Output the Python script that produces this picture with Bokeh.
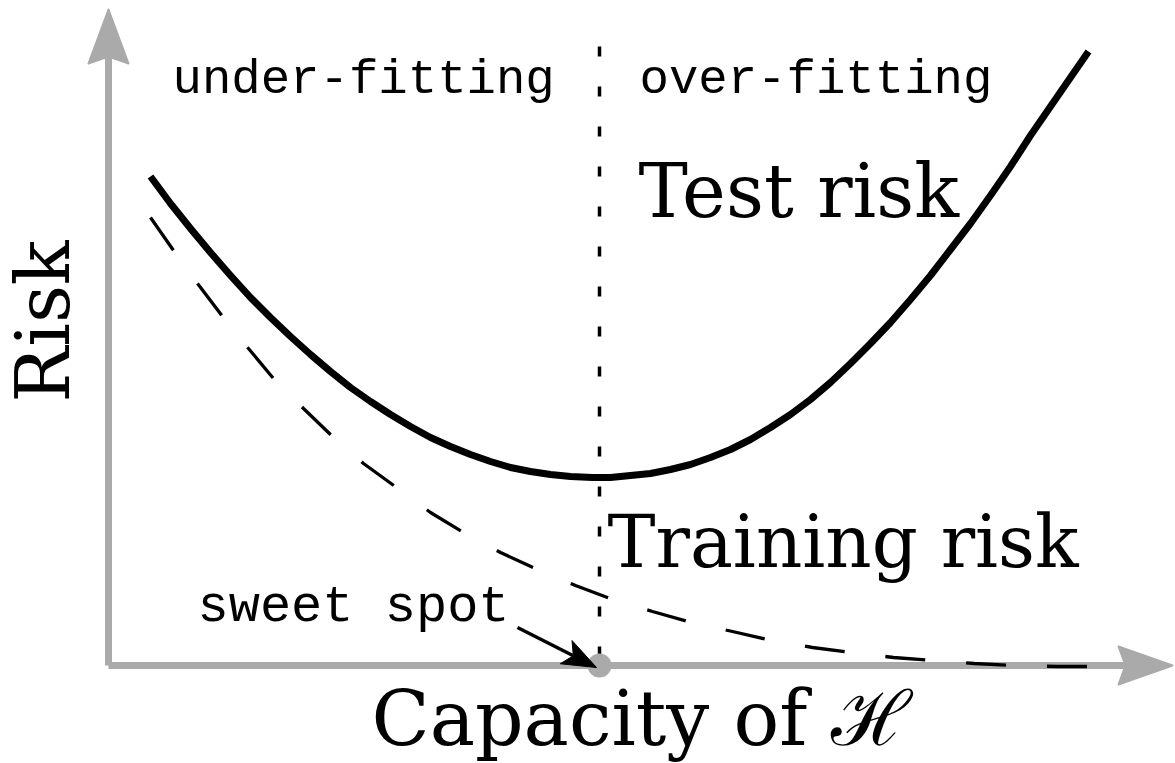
import numpy as np
from bokeh.plotting import figure
from bokeh.models import Range1d
from bokeh.core.properties import value
from bokeh.embed import file_html
from bokeh.resources import INLINE

# ---------------- data ----------------
capacity_test = [0.42, 0.62, 0.82, 1.02, 1.22, 1.42, 1.62, 1.82, 2.02, 2.22, 2.42, 2.62,
                 2.82, 3.02, 3.22, 3.42, 3.62, 3.82, 4.02, 4.22, 4.42, 4.62, 4.84, 5.02,
                 5.22, 5.42, 5.62, 5.82, 6.02, 6.22, 6.42, 6.62, 6.82, 7.02, 7.22, 7.42,
                 7.62, 7.82, 8.02, 8.22, 8.42, 8.62, 8.82, 9.02, 9.22, 9.42, 9.62, 9.80]
test_risk = [4.89, 4.62, 4.37, 4.13, 3.90, 3.68, 3.48, 3.29, 3.11, 2.94, 2.78, 2.64,
             2.51, 2.39, 2.28, 2.19, 2.11, 2.04, 1.98, 1.94, 1.91, 1.89, 1.88, 1.88,
             1.90, 1.92, 1.96, 2.01, 2.08, 2.16, 2.26, 2.38, 2.51, 2.66, 2.83, 3.02,
             3.22, 3.43, 3.66, 3.90, 4.16, 4.42, 4.70, 4.99, 5.30, 5.59, 5.88, 6.14]

capacity_train = [0.42, 0.65, 0.89, 1.14, 1.40, 1.65, 1.95, 2.24, 2.55, 2.88, 3.22, 3.55,
                  3.92, 4.29, 4.67, 5.04, 5.44, 5.83, 6.24, 6.63, 7.04, 7.44, 7.85, 8.24,
                  8.66, 9.06, 9.48, 9.81]
train_risk = [4.48, 4.15, 3.82, 3.49, 3.17, 2.87, 2.57, 2.29, 2.02, 1.78, 1.53, 1.33,
              1.13, 0.96, 0.80, 0.66, 0.54, 0.43, 0.34, 0.25, 0.18, 0.13, 0.08, 0.05,
              0.02, 0.00, -0.01, -0.01]

sweet_spot_capacity = [4.91]
sweet_spot_risk = [0.0]

x_axis_end = 10.64
y_axis_end = 6.56
divider_top = 6.19
divider_bottom = 0.05

labels = ["under-fitting", "over-fitting", "Test risk", "Training risk", "sweet spot"]
label_x = [0.64, 5.31, 5.30, 4.99, 0.89]
label_y = [5.86, 5.86, 4.75, 1.24, 0.58]

# ---------------- figure ----------------
W, H = 1175, 763
X0, X1 = -1.08, 10.67
Y0, Y1 = -0.98, 6.65
sx = (X1 - X0) / W   # data units per screen px
sy = (Y1 - Y0) / H

p = figure(width=W, height=H, x_range=Range1d(X0, X1), y_range=Range1d(Y0, Y1),
           output_backend="svg", toolbar_location=None,
           x_axis_location=None, y_axis_location=None, min_border=0)
p.outline_line_color = None
p.grid.visible = False
p.background_fill_color = "white"

GRAY = "#aaaaaa"


def head(tip_x, tip_y, dir_px, L, Wh, N):
    dx, dy = dir_px
    n = np.hypot(dx, dy)
    dx, dy = dx / n, dy / n
    nx, ny = -dy, dx
    pts = [(0, 0), (-L * dx + Wh * nx, -L * dy + Wh * ny), (-(L - N) * dx, -(L - N) * dy),
           (-L * dx - Wh * nx, -L * dy - Wh * ny)]
    xs = [tip_x + a * sx for a, b in pts]
    ys = [tip_y + b * sy for a, b in pts]
    return xs, ys


# axes
p.line([0, 0], [0, y_axis_end - 30 * sy], line_color=GRAY, line_width=7)
p.line([0, x_axis_end - 30 * sx], [0, 0], line_color=GRAY, line_width=7)
hx, hy = head(0, y_axis_end, (0, 1), 54, 20, 7)
p.patch(hx, hy, fill_color=GRAY, line_color=GRAY, line_width=2, line_join="round")
hx, hy = head(x_axis_end, 0, (1, 0), 54, 19, 7)
p.patch(hx, hy, fill_color=GRAY, line_color=GRAY, line_width=2, line_join="round")

# divider
p.line([sweet_spot_capacity[0]] * 2, [divider_top, divider_bottom], line_color="black",
       line_width=3.5, line_dash="10 30")

# curves
p.line(capacity_train, train_risk, line_color="black", line_width=3.3, line_dash="40 41")
p.line(capacity_test, test_risk, line_color="black", line_width=7, line_join="round")

# sweet spot marker
p.scatter(sweet_spot_capacity, sweet_spot_risk, size=24, fill_color=GRAY, line_color=None)

# sweet spot arrow
ax0, ay0 = 4.09, 0.38
ax1, ay1 = sweet_spot_capacity[0] - 0.03, sweet_spot_risk[0] - 0.02
dpx = ((ax1 - ax0) / sx, (ay1 - ay0) / sy)
hx, hy = head(ax1, ay1, dpx, 34, 13, 8)
nrm = np.hypot(*dpx)
p.line([ax0, ax1 - 26 * dpx[0] / nrm * sx], [ay0, ay1 - 26 * dpx[1] / nrm * sy],
       line_color="black", line_width=3.5)
p.patch(hx, hy, fill_color="black", line_color="black", line_width=1)

# texts
mono = dict(text_font=value("Liberation Mono"),
            text_baseline="alphabetic", text_color="black")
serif = dict(text_font=value("DejaVu Serif"), text_baseline="alphabetic", text_color="black")

p.text(x=[label_x[0]], y=[label_y[0]], text=[labels[0]], text_font_size="49px", **mono)
p.text(x=[label_x[1]], y=[label_y[1]], text=[labels[1]], text_font_size="49px", **mono)
p.text(x=[label_x[4]], y=[label_y[4]], text=[labels[4]], text_font_size="52px", **mono)
p.text(x=[label_x[2]], y=[label_y[2]], text=[labels[2]], text_font_size="74px", **serif)
p.text(x=[label_x[3]], y=[label_y[3]], text=[labels[3]], text_font_size="72px", **serif)

p.text(x=[2.63], y=[-0.53], text=["Capacity of ℋ"], text_font_size="76px", **serif)
p.text(x=[-0.66], y=[2.63], text=["Risk"], angle=np.pi / 2, text_font_size="74px", **serif)

open("out.html", "w").write(file_html(p, INLINE))
